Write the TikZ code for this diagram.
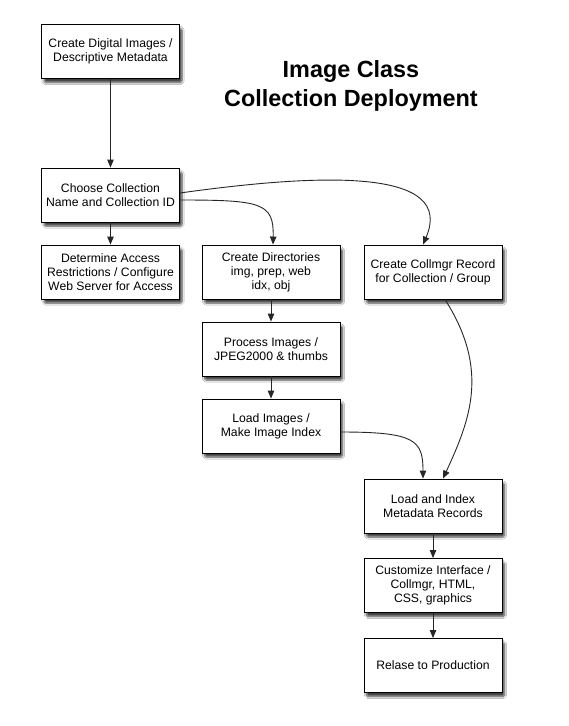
\documentclass[tikz,border=0pt]{standalone}
\usepackage{fontspec}
\setmainfont{Liberation Sans}
\usetikzlibrary{arrows.meta,shadows.blur}
\tikzset{
  box/.style={draw=black, line width=0.9pt, fill=white, minimum width=138pt, minimum height=54pt,
    inner sep=0pt, align=center, font=\fontsize{12.2}{14}\selectfont,
    blur shadow={shadow xshift=2.5pt, shadow yshift=-4pt, shadow blur steps=6, shadow blur extra rounding=1.5pt, shadow opacity=75}},
  conn/.style={draw=black!85, line width=0.9pt, -{Stealth[length=8pt,width=6.5pt,inset=0pt]}},
  titletext/.style={font=\fontsize{23.4}{29}\selectfont\bfseries, inner sep=0pt}
}
\begin{document}
\begin{tikzpicture}[x=1pt,y=-1pt]
\useasboundingbox[fill=white] (0,0) rectangle (568,726);
\node[titletext, anchor=base] (t1) at (351,77) {Image Class};
\node[titletext, anchor=base] (t2) at (351,106) {Collection Deployment};

\node[box] (b1) at (110.5,51.5) {Create Digital Images /\\Descriptive Metadata};
\node[box] (b2) at (110.5,195) {Choose Collection\\Name and Collection ID};
\node[box] (b3) at (110.5,272) {Determine Access\\Restrictions / Configure\\Web Server for Access};
\node[box] (b4) at (271,272) {Create Directories\\img, prep, web\\idx, obj};
\node[box] (b5) at (433,272) {Create Collmgr Record\\for Collection / Group};
\node[box] (b6) at (271,349) {Process Images /\\JPEG2000 \& thumbs};
\node[box] (b7) at (271,426) {Load Images /\\Make Image Index};
\node[box] (b8) at (433,506) {Load and Index\\Metadata Records};
\node[box] (b9) at (433,585.5) {Customize Interface /\\Collmgr, HTML,\\CSS, graphics};
\node[box] (b10) at (433,665.5) {Relase to Production};

\coordinate (s2a) at ([yshift=2pt]b2.east);
\coordinate (s2b) at ([yshift=-5pt]b2.east);
\coordinate (e4) at ([xshift=2pt]b4.north);
\coordinate (e5) at ([xshift=-10pt]b5.north);
\coordinate (s7) at ([yshift=-6pt]b7.east);
\coordinate (e8a) at ([xshift=-10pt]b8.north);
\coordinate (e8b) at ([xshift=10pt]b8.north);
\coordinate (s5) at ([xshift=12pt]b5.south);

\draw[conn] (b1) -- (b2);
\draw[conn] (b2) -- (b3);
\draw[conn] (s2b) .. controls (262,200) and (274,203) .. (e4);
\draw[conn] (s2a) .. controls (330,172) and (455,170) .. (e5);
\draw[conn] (b4) -- (b6);
\draw[conn] (b6) -- (b7);
\draw[conn] (s7) .. controls (415,432) and (423,440) .. (e8a);
\draw[conn] (s5) .. controls (490,370) and (470,420) .. (e8b);
\draw[conn] (b8) -- (b9);
\draw[conn] (b9) -- (b10);
\end{tikzpicture}
\end{document}
